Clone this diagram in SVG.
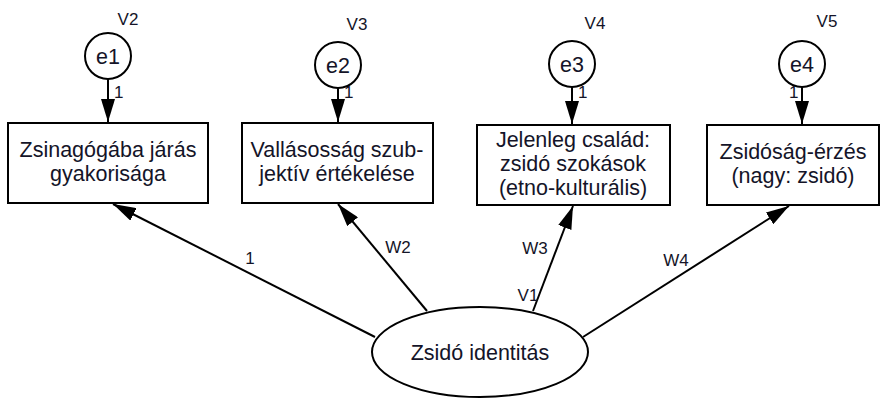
<svg xmlns="http://www.w3.org/2000/svg" width="881" height="399" viewBox="0 0 881 399">
<style>
text{font-family:"Liberation Sans",Arial,sans-serif;fill:#141428;}
.bt{font-size:21.5px;text-anchor:middle;}
.lb{font-size:17px;text-anchor:middle;}
.sm{font-size:17px;}
.nd{fill:#fff;stroke:#000;stroke-width:2;}
.cn{stroke:#000;stroke-width:2;fill:none;marker-end:url(#ah);}
</style>
<defs>
<marker id="ah" viewBox="0 0 10 10" refX="10" refY="5" markerWidth="23" markerHeight="14" markerUnits="userSpaceOnUse" orient="auto" preserveAspectRatio="none">
<path d="M0,0 L10,5 L0,10 z" fill="#000"/>
</marker>
</defs>
<g id="connectors">
<line class="cn" x1="108" y1="79" x2="108" y2="122"/>
<line class="cn" x1="338" y1="88" x2="338" y2="122"/>
<line class="cn" x1="572" y1="87" x2="572" y2="124"/>
<line class="cn" x1="802" y1="87" x2="802" y2="124"/>
<line class="cn" x1="375" y1="337" x2="113" y2="204"/>
<line class="cn" x1="427" y1="311" x2="338" y2="204"/>
<line class="cn" x1="533" y1="311" x2="573" y2="206"/>
<line class="cn" x1="583" y1="337" x2="789" y2="206"/>
<text class="sm" x="114" y="98">1</text>
<text class="sm" x="344" y="98">1</text>
<text class="sm" x="578" y="98">1</text>
<text class="sm" x="789" y="98">1</text>
<text class="lb" x="250" y="264">1</text>
<text class="lb" x="398" y="253">W2</text>
<text class="lb" x="535" y="254">W3</text>
<text class="lb" x="528" y="301">V1</text>
<text class="lb" x="676" y="266">W4</text>
</g>
<g id="e1">
<circle class="nd" cx="108" cy="56" r="23"/>
<text class="bt" x="108" y="64">e1</text>
<text class="lb" x="128" y="25">V2</text>
</g>
<g id="e2">
<circle class="nd" cx="338" cy="65" r="23"/>
<text class="bt" x="338" y="73">e2</text>
<text class="lb" x="357" y="30">V3</text>
</g>
<g id="e3">
<circle class="nd" cx="572" cy="64" r="23"/>
<text class="bt" x="572" y="72">e3</text>
<text class="lb" x="595" y="29">V4</text>
</g>
<g id="e4">
<circle class="nd" cx="802" cy="64" r="23"/>
<text class="bt" x="802" y="72">e4</text>
<text class="lb" x="827" y="27">V5</text>
</g>
<g id="box1">
<rect class="nd" x="8" y="123" width="200" height="80"/>
<text class="bt" x="108" y="157">Zsinagógába járás</text>
<text class="bt" x="108" y="181">gyakorisága</text>
</g>
<g id="box2">
<rect class="nd" x="242" y="123" width="191" height="80"/>
<text class="bt" x="337" y="157">Vallásosság szub-</text>
<text class="bt" x="337" y="181">jektív értékelése</text>
</g>
<g id="box3">
<rect class="nd" x="477" y="125" width="193" height="80"/>
<text class="bt" x="573" y="147">Jelenleg család:</text>
<text class="bt" x="573" y="171">zsidó szokások</text>
<text class="bt" x="573" y="195">(etno-kulturális)</text>
</g>
<g id="box4">
<rect class="nd" x="707" y="125" width="172" height="80"/>
<text class="bt" x="793" y="159">Zsidóság-érzés</text>
<text class="bt" x="793" y="183">(nagy: zsidó)</text>
</g>
<g id="latent">
<ellipse class="nd" cx="480" cy="352" rx="108" ry="45"/>
<text class="bt" x="480" y="360">Zsidó identitás</text>
</g>
</svg>
